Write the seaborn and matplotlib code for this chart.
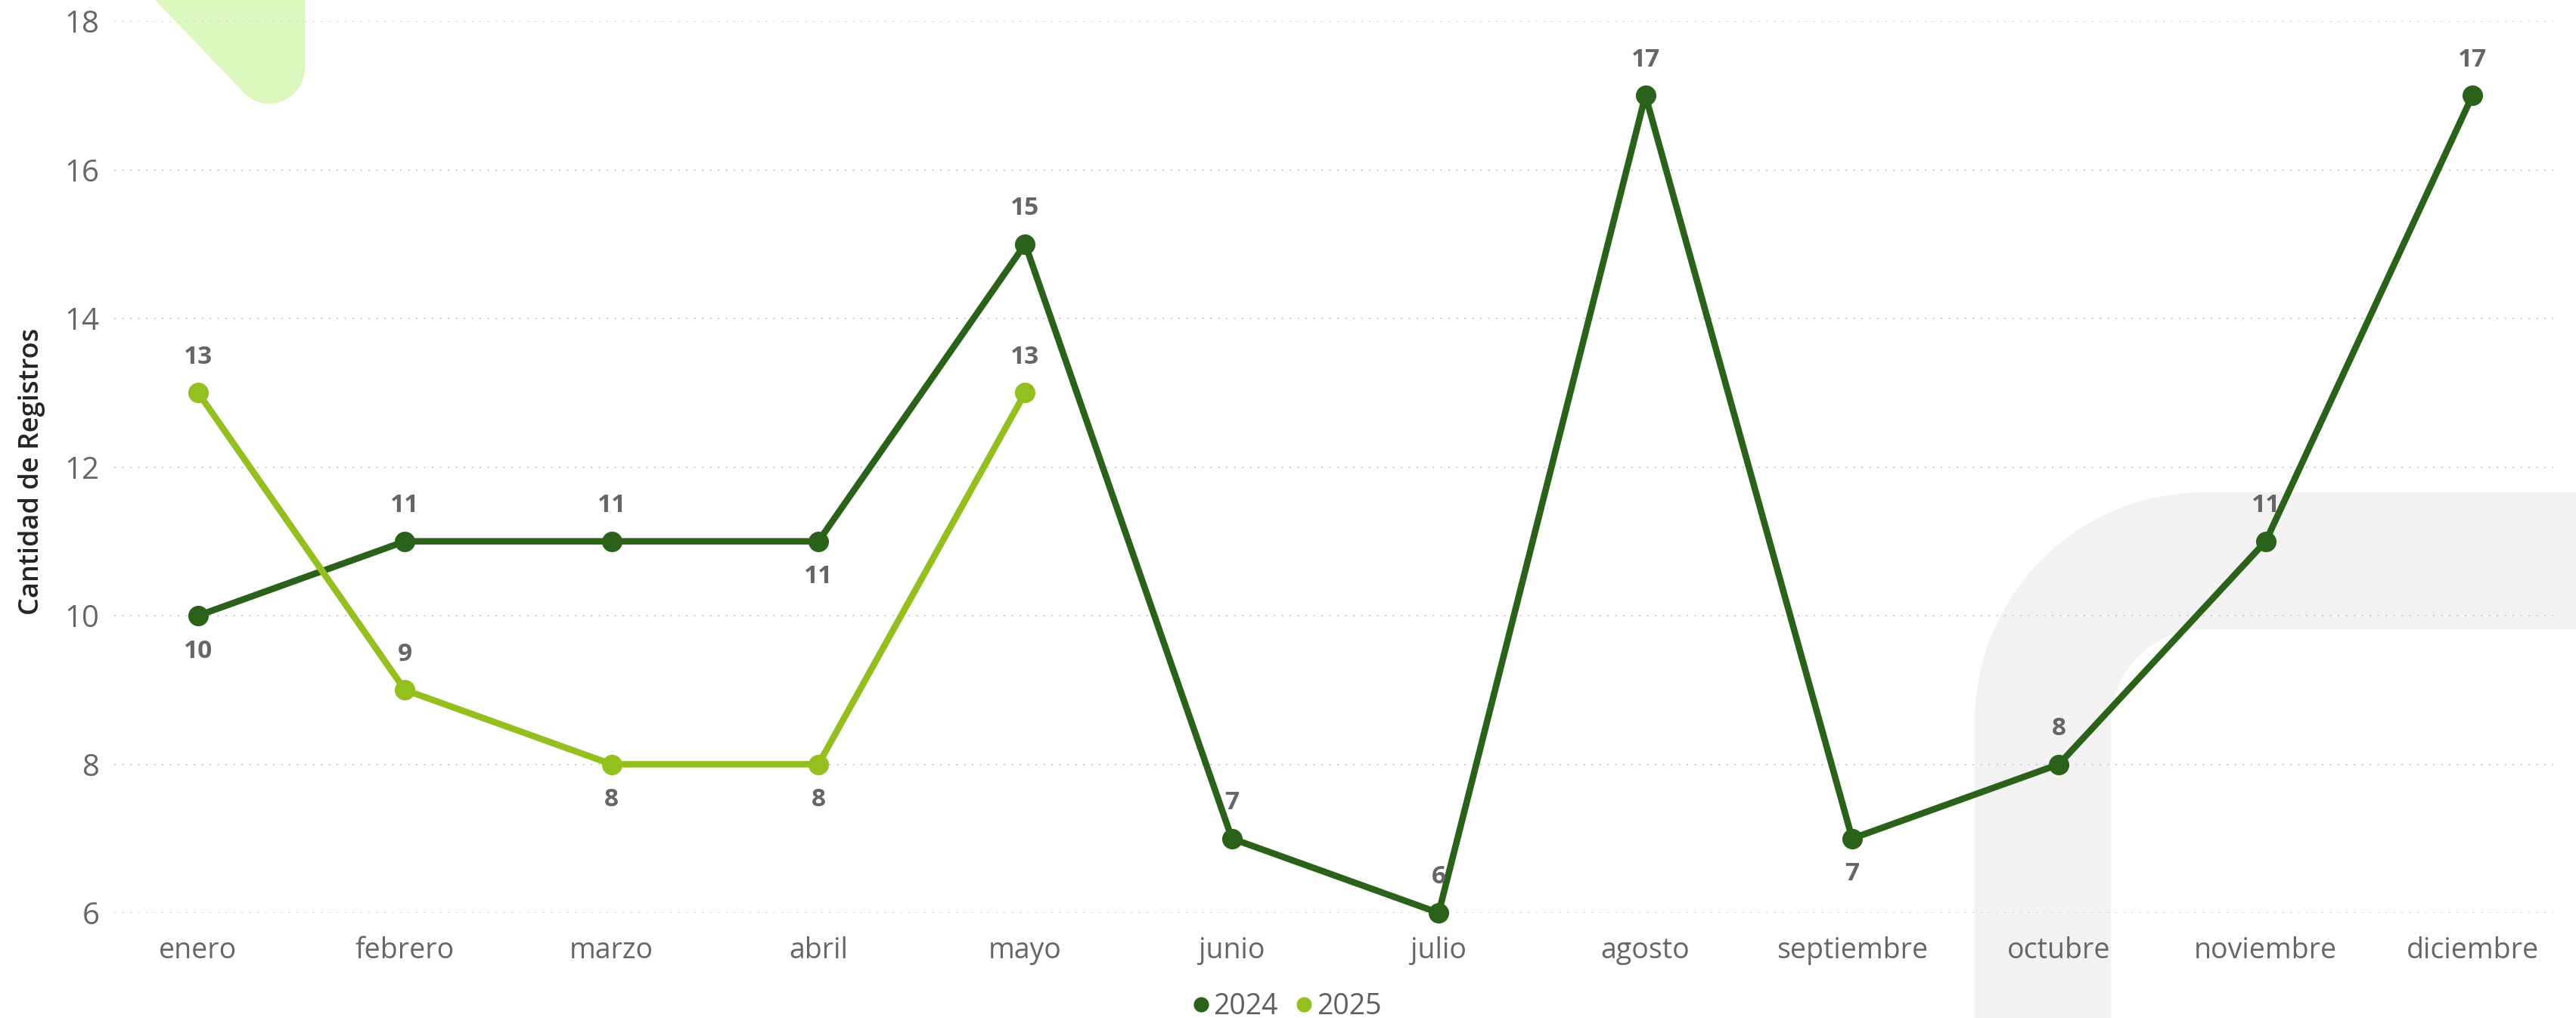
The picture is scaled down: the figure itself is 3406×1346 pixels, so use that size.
import numpy as np
import pandas as pd
import matplotlib
matplotlib.use("Agg")
import matplotlib.pyplot as plt
from matplotlib.path import Path
from matplotlib.patches import PathPatch
from matplotlib.lines import Line2D
import seaborn as sns

# --- data ---
meses = ["enero", "febrero", "marzo", "abril", "mayo", "junio", "julio",
         "agosto", "septiembre", "octubre", "noviembre", "diciembre"]
registros_2024 = [10, 11, 11, 11, 15, 7, 6, 17, 7, 8, 11, 17]
registros_2025 = [13, 9, 8, 8, 13]
# label above (+1) or below (-1) each point, as placed in the reference
pos_2024 = [-1, 1, 1, -1, 1, 1, 1, 1, -1, 1, 1, 1]
pos_2025 = [1, 1, -1, -1, 1]
y_ticks = [6, 8, 10, 12, 14, 16, 18]

anios = ["2024", "2025"]
colores = {"2024": "#2B6219", "2025": "#93C01F"}

df = pd.concat([
    pd.DataFrame({"mes": meses, "registros": registros_2024, "anio": "2024"}),
    pd.DataFrame({"mes": meses[:len(registros_2025)], "registros": registros_2025, "anio": "2025"}),
], ignore_index=True)
df["idx"] = df["mes"].map({m: i for i, m in enumerate(meses)})

W, H = 3406, 1346
sns.set_style("white")
plt.rcParams["font.family"] = ["Open Sans", "DejaVu Sans"]

fig = plt.figure(figsize=(W / 100, H / 100), dpi=100)
fig.patch.set_facecolor("white")


def px(x, y):
    # pixel position (y down) -> figure fraction
    return (x / W, 1 - y / H)


def arc(cx, cy, r, a0, a1, n=30):
    t = np.radians(np.linspace(a0, a1, n))
    return [px(cx + r * np.cos(a), cy + r * np.sin(a)) for a in t]


def add_shape(pts, color):
    verts = pts + [pts[0]]
    codes = [Path.MOVETO] + [Path.LINETO] * (len(pts) - 1) + [Path.CLOSEPOLY]
    patch = PathPatch(Path(verts, codes), facecolor=color, edgecolor="none",
                      transform=fig.transFigure, zorder=-5)
    fig.add_artist(patch)


# background decorations (report theme shapes)
green = [px(205, 0)] + arc(356, 90, 47, 136.9, 0) + [px(403, 0)]
add_shape(green, "#DCF8BF")
grey = ([px(2611, H)] + arc(2914, 954, 303, 180, 270) + [px(W, 651), px(W, 832)]
        + arc(2914, 955, 123, 270, 180) + [px(2791, H)])
add_shape(grey, "#F2F2F2")

ax = fig.add_axes([151 / W, 1 - 1207 / H, (3376 - 151) / W, (1207 - 28) / H])
ax.set_facecolor("none")

sns.lineplot(data=df, x="idx", y="registros", hue="anio", hue_order=anios,
             palette=colores, marker="o", markersize=19.5, markeredgewidth=0,
             linewidth=6.2, legend=False, ax=ax, clip_on=False)

# data labels
for vals, pos in [(registros_2024, pos_2024), (registros_2025, pos_2025)]:
    for i, (v, p) in enumerate(zip(vals, pos)):
        ax.annotate(str(v), (i, v), xytext=(0, 34 * p), textcoords="offset points",
                    ha="center", va="center", fontsize=24, fontweight="bold",
                    color="#666666", zorder=5)

ax.set_xlim(-0.406, 11.391)
ax.set_ylim(6, 18)
ax.set_xticks(range(len(meses)))
ax.set_xticklabels(meses)
ax.set_yticks(y_ticks)
ax.tick_params(axis="x", labelsize=27, labelcolor="#666666", length=0, pad=22)
ax.tick_params(axis="y", labelsize=29, labelcolor="#666666", length=0, pad=14)
ax.grid(axis="y", color="#C4C4C4", linewidth=1.2, linestyle=(0, (1.3, 5)))
ax.grid(axis="x", visible=False)
ax.set_axisbelow(True)
for s in ax.spines.values():
    s.set_visible(False)

ax.set_xlabel("")
ax.set_ylabel("Cantidad de Registros", fontsize=26, fontweight="semibold",
              color="#252423", va="center")
ax.yaxis.set_label_coords(-0.0338, 0.495)

handles = [Line2D([], [], linestyle="none", marker="o", markersize=14.5,
                  markeredgewidth=0, color=colores[a]) for a in anios]
fig.legend(handles, anios, loc="center", bbox_to_anchor=(0.4995, 0.011),
           ncol=2, frameon=False, fontsize=27, labelcolor="#605E5C",
           handlelength=0.6, handletextpad=0.15, columnspacing=0.6,
           borderaxespad=0, borderpad=0)

fig.savefig("out.png", dpi=100, facecolor="white")
